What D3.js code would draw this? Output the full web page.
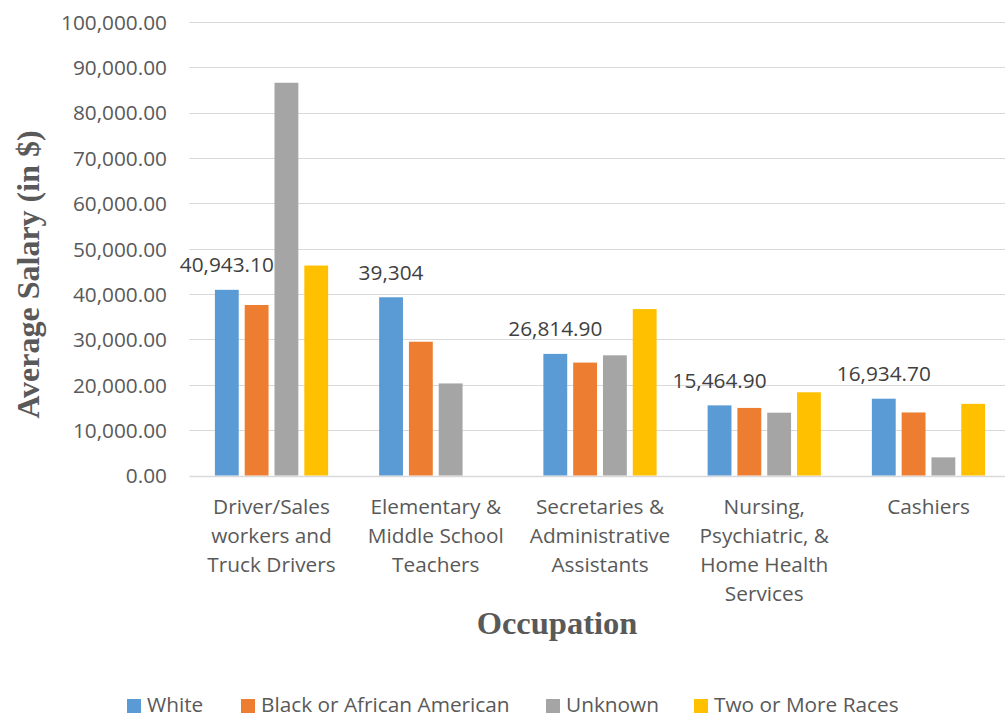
<!DOCTYPE html>
<html>
<head>
<meta charset="utf-8">
<script src="https://cdn.jsdelivr.net/npm/d3@7"></script>
<style>
  html, body { margin: 0; padding: 0; background: #fff; }
  svg { display: block; }
</style>
</head>
<body>
<svg id="chart" width="1005" height="719"></svg>
<script>
const categories = [
  ["Driver/Sales", "workers and", "Truck Drivers"],
  ["Elementary &", "Middle School", "Teachers"],
  ["Secretaries &", "Administrative", "Assistants"],
  ["Nursing,", "Psychiatric, &", "Home Health", "Services"],
  ["Cashiers"]
];
const seriesNames = ["White", "Black or African American", "Unknown", "Two or More Races"];
const white   = [40943.10, 39304, 26814.90, 15464.90, 16934.70];
const black   = [37600, 29500, 24900, 14900, 13900];
const unknown = [86600, 20300, 26500, 13850, 4000];
const twoMore = [46300, null, 36700, 18350, 15800];
const whiteLabels = ["40,943.10", "39,304", "26,814.90", "15,464.90", "16,934.70"];
const yTicks = [0, 10000, 20000, 30000, 40000, 50000, 60000, 70000, 80000, 90000, 100000];
const colors = ["#5B9BD5", "#ED7D31", "#A5A5A5", "#FFC000"];

const seriesValues = [white, black, unknown, twoMore];
const svg = d3.select("#chart");
const FONT = "'Open Sans', Lato, sans-serif";
const FS = 20.8;
const TXT = "#595959";

const catIdx = categories.map((c, i) => i);
const x0 = d3.scaleBand().domain(catIdx).range([189.4, 1010.6]).padding(0);
const bw = x0.bandwidth();
const x1 = d3.scaleBand().domain(d3.range(4)).range([bw / 2 - 59.6, bw / 2 + 59.6]).paddingInner(0.2).paddingOuter(0.1);
const y = d3.scaleLinear().domain([0, 100000]).range([475.5, 22]);

// y axis labels
const yAxis = d3.axisLeft(y).tickValues(yTicks).tickSize(0).tickPadding(0)
  .tickFormat(d => d3.format(",.2f")(d));
const gAxis = svg.append("g").attr("transform", "translate(167,0)").call(yAxis);
gAxis.select(".domain").remove();
gAxis.selectAll("text").attr("font-family", FONT).attr("font-size", FS).attr("fill", TXT).attr("dy", "0.35em");

// gridlines
svg.append("g").selectAll("line").data(yTicks).join("line")
  .attr("x1", 189.4).attr("x2", 1005)
  .attr("y1", d => Math.round(y(d)) + 0.5).attr("y2", d => Math.round(y(d)) + 0.5)
  .attr("stroke", "#D9D9D9").attr("stroke-width", d => d === 0 ? 1.5 : 1.2);

// bars
const groups = svg.append("g").selectAll("g").data(catIdx).join("g")
  .attr("transform", i => `translate(${x0(i)},0)`);
groups.selectAll("rect")
  .data(i => seriesValues.map((s, k) => ({k, v: s[i]})).filter(d => d.v != null))
  .join("rect")
  .attr("x", d => x1(d.k)).attr("width", x1.bandwidth())
  .attr("y", d => y(d.v)).attr("height", d => y(0) - y(d.v))
  .attr("fill", d => colors[d.k]);

// data labels (White series)
groups.append("text")
  .attr("x", x1(0) + x1.bandwidth() / 2)
  .attr("y", i => y(white[i]) - 25)
  .attr("dy", "0.35em")
  .attr("text-anchor", "middle")
  .attr("font-family", FONT).attr("font-size", FS).attr("fill", "#404040")
  .text(i => whiteLabels[i]);

// category labels
const catText = svg.append("g").selectAll("text").data(catIdx).join("text")
  .attr("text-anchor", "middle")
  .attr("font-family", FONT).attr("font-size", FS).attr("fill", TXT)
  .attr("transform", i => `translate(${x0(i) + bw / 2},507)`);
catText.selectAll("tspan").data(i => categories[i]).join("tspan")
  .attr("x", 0).attr("y", (d, j) => j * 29).attr("dy", "0.35em").text(d => d);

// axis titles
svg.append("text")
  .attr("transform", "translate(28,274.5) rotate(-90)")
  .attr("text-anchor", "middle").attr("dy", "0.35em")
  .attr("font-family", "'Liberation Serif', 'Times New Roman', serif")
  .attr("font-weight", "bold").attr("font-size", 32).attr("fill", TXT)
  .text("Average Salary (in $)");
svg.append("text")
  .attr("x", 557).attr("y", 623).attr("dy", "0.35em")
  .attr("text-anchor", "middle")
  .attr("font-family", "'Liberation Serif', 'Times New Roman', serif")
  .attr("font-weight", "bold").attr("font-size", 32.5).attr("fill", TXT)
  .text("Occupation");

// legend
const legendX = [127, 241, 546, 694];
const leg = svg.append("g").selectAll("g").data(seriesNames).join("g")
  .attr("transform", (d, k) => `translate(${legendX[k]},705)`);
leg.append("rect").attr("x", 0).attr("y", -6).attr("width", 14).attr("height", 14)
  .attr("fill", (d, k) => colors[k]);
leg.append("text").attr("x", 20).attr("dy", "0.35em")
  .attr("font-family", FONT).attr("font-size", FS).attr("fill", TXT)
  .text(d => d);
</script>
</body>
</html>
